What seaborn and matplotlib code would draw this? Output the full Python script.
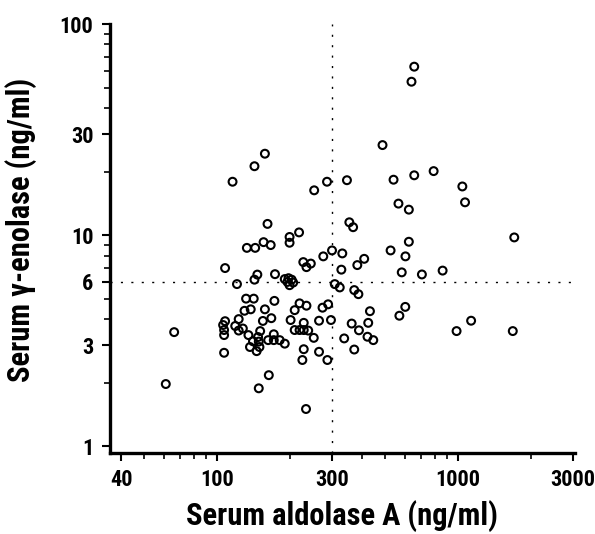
import numpy as np
import pandas as pd
import matplotlib
matplotlib.use("Agg")
import matplotlib.pyplot as plt
import matplotlib.ticker as mticker
import seaborn as sns

# serum aldolase A (ng/ml)
aldolase = [658, 641, 486, 158, 143, 116, 286, 253, 346, 540, 658, 792, 1042, 1069,
            566, 625, 354, 367, 162, 219, 200, 200, 133, 144, 156, 167, 625, 1711,
            525, 605, 300, 331, 276, 408, 382, 228, 245, 235, 328, 108, 584, 708,
            863, 121, 143, 147, 174, 191, 198, 204, 200, 207, 196, 308, 323, 371,
            386, 132, 142, 173, 130, 138, 158, 220, 235, 210, 274, 289, 431, 604,
            571, 168, 155, 123, 202, 229, 265, 297, 362, 424, 1133, 108, 106, 107,
            107, 66.4, 119, 123, 128, 151, 135, 148, 149, 141, 163, 172, 172, 182,
            191, 210, 220, 229, 239, 252, 337, 388, 421, 445, 986, 1687, 137, 150,
            146, 107, 229, 226, 265, 287, 371, 61.3, 164, 149, 234]
# serum gamma-enolase (ng/ml)
enolase = [62.8, 53.3, 26.7, 24.3, 21.2, 17.9, 17.9, 16.3, 18.2, 18.3, 19.2, 20.1, 17.0, 14.3,
           14.1, 13.2, 11.5, 10.9, 11.3, 10.3, 9.8, 9.2, 8.7, 8.7, 9.26, 8.97, 9.3, 9.75,
           8.46, 7.93, 8.46, 8.19, 7.93, 7.72, 7.21, 7.45, 7.33, 7.05, 6.86, 6.98, 6.66, 6.51,
           6.79, 5.86, 6.15, 6.5, 6.53, 6.19, 6.25, 6.15, 5.79, 5.96, 6.0, 5.86, 5.65, 5.49,
           5.25, 5.0, 5.0, 4.88, 4.38, 4.45, 4.45, 4.75, 4.63, 4.41, 4.53, 4.70, 4.36, 4.57,
           4.15, 4.04, 3.92, 4.0, 3.96, 3.84, 3.93, 3.96, 3.81, 3.84, 3.93, 3.91, 3.75, 3.55,
           3.36, 3.47, 3.71, 3.53, 3.61, 3.51, 3.36, 3.29, 3.13, 3.14, 3.18, 3.39, 3.18, 3.18,
           3.06, 3.55, 3.55, 3.55, 3.53, 3.26, 3.24, 3.54, 3.30, 3.18, 3.51, 3.51, 2.95, 2.95,
           2.82, 2.77, 2.88, 2.56, 2.80, 2.56, 2.87, 1.97, 2.17, 1.88, 1.50]

x_ticks = [40, 100, 300, 1000, 3000]
y_ticks = [1, 3, 6, 10, 30, 100]
x_cut = 300
y_cut = 6

df = pd.DataFrame({"aldolase": aldolase, "enolase": enolase})

sns.set_style("ticks")
# narrow bold face if one is around, DejaVu otherwise
plt.rcParams["font.family"] = ["Liberation Sans Narrow", "DejaVu Sans Condensed",
                               "Noto Sans Condensed", "Noto Sans ExtraCondensed",
                               "Roboto Condensed", "Open Sans Condensed", "DejaVu Sans"]
plt.rcParams["font.stretch"] = "condensed"
plt.rcParams["font.weight"] = "bold"
plt.rcParams["text.color"] = "black"
plt.rcParams["axes.labelcolor"] = "black"

fig = plt.figure(figsize=(5.95, 5.34), dpi=100)
ax = fig.add_axes([0.185, 0.152, 0.781, 0.803])

sns.scatterplot(data=df, x="aldolase", y="enolase", ax=ax, s=32,
                facecolor="none", edgecolor="black", linewidth=1.5, zorder=3)

ax.set_xscale("log")
ax.set_yscale("log")
ax.set_xlim(36, 3050)
ax.set_ylim(0.93, 100)

# cut-off lines
ax.axvline(x_cut, color="black", lw=1.0, ls=(0, (1.5, 6)), zorder=1)
ax.axhline(y_cut, color="black", lw=1.0, ls=(0, (1.5, 6)), zorder=1)

ax.xaxis.set_major_locator(mticker.FixedLocator(x_ticks))
ax.xaxis.set_major_formatter(mticker.FixedFormatter([str(t) for t in x_ticks]))
ax.xaxis.set_minor_locator(mticker.LogLocator(base=10, subs=np.arange(2, 10), numticks=20))
ax.xaxis.set_minor_formatter(mticker.NullFormatter())
ax.yaxis.set_major_locator(mticker.FixedLocator(y_ticks))
ax.yaxis.set_major_formatter(mticker.FixedFormatter([str(t) for t in y_ticks]))
ax.yaxis.set_minor_locator(mticker.LogLocator(base=10, subs=np.arange(2, 10), numticks=20))
ax.yaxis.set_minor_formatter(mticker.NullFormatter())

sns.despine(ax=ax)
for side in ["left", "bottom"]:
    ax.spines[side].set_linewidth(2.4)
    ax.spines[side].set_color("black")
ax.tick_params(which="major", length=6, width=1.5, labelsize=16, pad=6,
               direction="out", colors="black")
ax.tick_params(which="minor", length=4, width=1.2, direction="out", colors="black")

ax.set_xlabel("Serum aldolase A (ng/ml)", fontsize=22, fontweight="bold")
ax.set_ylabel("Serum γ-enolase (ng/ml)", fontsize=22, fontweight="bold")
ax.xaxis.set_label_coords(0.5, -0.11)
ax.yaxis.set_label_coords(-0.157, 0.52)

fig.savefig("out.png", dpi=100)
